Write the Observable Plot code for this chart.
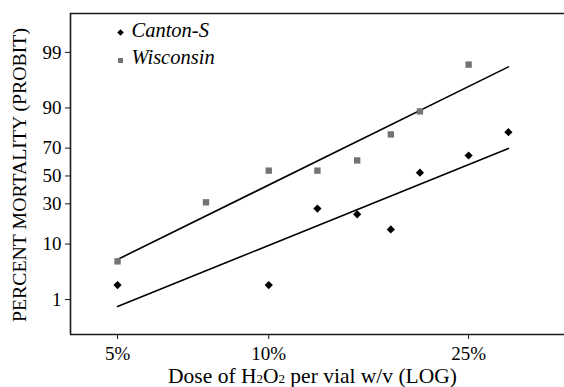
<!DOCTYPE html>
<html><head><meta charset="utf-8">
<script src="https://cdn.jsdelivr.net/npm/d3@7"></script>
<script src="https://cdn.jsdelivr.net/npm/@observablehq/plot@0.6"></script>
<style>body{margin:0;background:#fff}</style>
</head><body><div id="chart"></div>
<script>
// ---- data (percent mortality vs dose % w/v) ----
const series = ["Canton-S", "Wisconsin"];
const cantonDose = [5, 10, 12.5, 15, 17.5, 20, 25, 30];
const cantonMort = [2.0, 2.0, 27, 23.5, 15.7, 52.5, 65, 79.5];
const wiscDose = [5, 7.5, 10, 12.5, 15, 17.5, 20, 25];
const wiscMort = [5.4, 31, 54, 54, 61.5, 78.3, 88.8, 98.2];
const fitDose = [5, 30];
const cantonFit = [0.70, 69.8];
const wiscFit = [5.8, 98.0];
const yTicks = [1, 10, 30, 50, 70, 90, 99];
const xTicks = [5, 10, 25];
const xDomain = [4.03, 38.8];
const yDomain = [0.142, 99.889];
const yLabel = "PERCENT MORTALITY (PROBIT)";
const xLabel = "Dose of H2O2 per vial w/v (LOG)";

// inverse normal CDF (probit), Acklam's approximation
function probit(p) {
  const a=[-3.969683028665376e+01,2.209460984245205e+02,-2.759285104469687e+02,1.383577518672690e+02,-3.066479806614716e+01,2.506628277459239e+00];
  const b=[-5.447609879822406e+01,1.615858368580409e+02,-1.556989798598866e+02,6.680131188771972e+01,-1.328068155288572e+01];
  const c=[-7.784894002430293e-03,-3.223964580411365e-01,-2.400758277161838e+00,-2.549732539343734e+00,4.374664141464968e+00,2.938163982698783e+00];
  const d=[7.784695709041462e-03,3.224671290700398e-01,2.445134137142996e+00,3.754408661907416e+00];
  const pl = 0.02425, ph = 1 - pl;
  let q, r;
  if (p < pl) { q = Math.sqrt(-2*Math.log(p)); return (((((c[0]*q+c[1])*q+c[2])*q+c[3])*q+c[4])*q+c[5])/((((d[0]*q+d[1])*q+d[2])*q+d[3])*q+1); }
  if (p > ph) { q = Math.sqrt(-2*Math.log(1-p)); return -(((((c[0]*q+c[1])*q+c[2])*q+c[3])*q+c[4])*q+c[5])/((((d[0]*q+d[1])*q+d[2])*q+d[3])*q+1); }
  q = p - 0.5; r = q*q;
  return (((((a[0]*r+a[1])*r+a[2])*r+a[3])*r+a[4])*r+a[5])*q/(((((b[0]*r+b[1])*r+b[2])*r+b[3])*r+b[4])*r+1);
}
const z = v => probit(v / 100);

const canton = cantonDose.map((x, i) => ({x, y: z(cantonMort[i])}));
const wisc = wiscDose.map((x, i) => ({x, y: z(wiscMort[i])}));
const cFit = fitDose.map((x, i) => ({x, y: z(cantonFit[i])}));
const wFit = fitDose.map((x, i) => ({x, y: z(wiscFit[i])}));
const yTickPos = yTicks.map(z);
const grey = "#737373";
const axisColor = "#1a1a1a";

const chart = Plot.plot({
  width: 564, height: 387,
  marginLeft: 70, marginRight: 0, marginTop: 13, marginBottom: 53,
  style: {fontFamily: "'Liberation Serif', serif", fontSize: "18px", color: "#000", background: "#fff"},
  x: {type: "log", domain: xDomain},
  y: {type: "linear", domain: yDomain.map(z)},
  marks: [
    Plot.ruleY(yDomain.map(z), {stroke: axisColor, strokeWidth: 1.6}),
    Plot.ruleX([xDomain[0]], {stroke: axisColor, strokeWidth: 1.6}),
    Plot.axisY(yTickPos, {
      tickSize: 5, tickPadding: 4, stroke: axisColor, fontSize: 19,
      tickFormat: d => yTicks[yTickPos.findIndex(t => Math.abs(t - d) < 1e-9)],
      label: null
    }),
    Plot.axisX(xTicks, {
      tickSize: 5, tickPadding: 7, stroke: axisColor, fontSize: 19,
      tickFormat: d => d + "%", label: null
    }),
    Plot.text([yLabel], {frameAnchor: "left", dx: -51, dy: 1, rotate: -90, textAnchor: "middle", lineAnchor: "middle", fontSize: 19.8, text: d => d}),
    Plot.text([xLabel], {frameAnchor: "bottom", dx: -5, dy: 42, lineAnchor: "middle", fontSize: 21.5, text: d => d}),
    Plot.line(wFit, {x: "x", y: "y", stroke: "#000", strokeWidth: 1.6}),
    Plot.line(cFit, {x: "x", y: "y", stroke: "#000", strokeWidth: 1.6}),
    Plot.dot(wisc, {x: "x", y: "y", symbol: "square", fill: grey, r: 3.6}),
    Plot.dot(canton, {x: "x", y: "y", symbol: "diamond2", fill: "#000", stroke: "none", r: 3.7}),
    // legend
    Plot.dot([series[0]], {frameAnchor: "top-left", dx: 50, dy: 19, symbol: "diamond2", fill: "#000", r: 2.9}),
    Plot.dot([series[1]], {frameAnchor: "top-left", dx: 50, dy: 47, symbol: "square", fill: grey, r: 2.8}),
    Plot.text([series[0]], {frameAnchor: "top-left", dx: 61, dy: 17, textAnchor: "start", lineAnchor: "middle", fontStyle: "italic", fontSize: 20.5, text: d => d}),
    Plot.text([series[1]], {frameAnchor: "top-left", dx: 61, dy: 44, textAnchor: "start", lineAnchor: "middle", fontStyle: "italic", fontSize: 20.5, text: d => d})
  ]
});

// subscripts in the x label
chart.querySelectorAll("text").forEach(t => {
  if (t.textContent === xLabel) {
    t.innerHTML = 'Dose of H<tspan font-size="13">2</tspan>O<tspan font-size="13">2</tspan> per vial w/v (LOG)';
  }
});
document.getElementById("chart").appendChild(chart);
</script>
</body></html>
